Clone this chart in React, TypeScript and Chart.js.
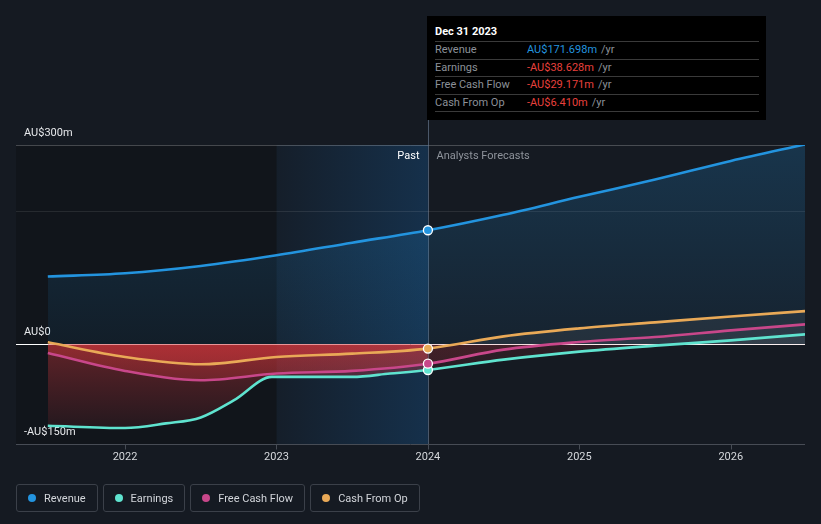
import React, { useEffect, useRef } from "react";
import { Chart, registerables } from "chart.js";
Chart.register(...registerables);

// ---------- data (AU$ millions) ----------
const revenueX = [2021.49, 2022.0, 2022.5, 2023.0, 2023.5, 2024.0, 2024.5, 2025.0, 2025.5, 2026.0, 2026.49];
const revenueY = [102, 107, 118, 134, 153, 171.7, 195, 222, 248, 276, 301];

const earningsX = [2021.49, 2022.0, 2022.27, 2022.5, 2022.72, 2022.97, 2023.5, 2023.75, 2024.0, 2024.5, 2025.0, 2025.5, 2026.0, 2026.49];
const earningsY = [-122.6, -126, -119, -110, -84, -49, -49, -44, -38.6, -23, -11, -2, 6, 15];

const fcfX = [2021.49, 2022.0, 2022.5, 2023.0, 2023.5, 2024.0, 2024.5, 2025.0, 2025.5, 2026.0, 2026.49];
const fcfY = [-13, -40, -54, -44, -40, -29.2, -8, 3.5, 11, 21, 30];

const cfoX = [2021.49, 2022.0, 2022.5, 2023.0, 2023.5, 2024.0, 2024.5, 2025.0, 2025.5, 2026.0, 2026.49];
const cfoY = [3, -19, -30, -19, -14, -6.4, 12, 24, 33, 42, 50];

const highlightX = 2024.0;
const highlightValues = [171.698, -38.628, -29.171, -6.41];

const xTickYears = [2022, 2023, 2024, 2025, 2026];
const yTickValues = [300, 0, -150];
const yTickLabels = ["AU$300m", "AU$0", "-AU$150m"];
const gridValues = [300, 200];

const seriesNames = ["Revenue", "Earnings", "Free Cash Flow", "Cash From Op"];
const seriesColors = ["#2394df", "#5fe3cf", "#c8478a", "#e9a957"];
const tooltipDate = "Dec 31 2023";
const tooltipTexts = ["AU$171.698m", "-AU$38.628m", "-AU$29.171m", "-AU$6.410m"];

const X_MIN = 2021.28;
const X_MAX = 2026.49;
const Y_MIN = -150;
const Y_MAX = 300;

const BG = "#151a22";
const DARK = "#11151b";
const FONT = "Roboto, 'Noto Sans', sans-serif";

function pts(xs: number[], ys: number[], filter?: (x: number) => boolean) {
  const out: { x: number; y: number }[] = [];
  xs.forEach((x, i) => {
    if (!filter || filter(x)) out.push({ x, y: ys[i] });
  });
  return out;
}

const past = (x: number) => x <= highlightX + 1e-9;
const future = (x: number) => x >= highlightX - 1e-9;

function redGrad(strong: boolean) {
  return (ctx: any) => {
    const chart = ctx.chart;
    const ca = chart.chartArea;
    if (!ca) return "rgba(0,0,0,0)";
    const y0 = chart.scales.y.getPixelForValue(0);
    const g = chart.ctx.createLinearGradient(0, y0, 0, ca.bottom);
    if (strong) {
      g.addColorStop(0, "rgba(215,55,60,0.40)");
      g.addColorStop(1, "rgba(215,55,60,0.04)");
    } else {
      g.addColorStop(0, "rgba(205,52,58,0.13)");
      g.addColorStop(1, "rgba(205,52,58,0.02)");
    }
    return g;
  };
}

function blueGrad(ctx: any) {
  const chart = ctx.chart;
  const ca = chart.chartArea;
  if (!ca) return "rgba(0,0,0,0)";
  const y0 = chart.scales.y.getPixelForValue(0);
  const g = chart.ctx.createLinearGradient(0, ca.top, 0, y0);
  g.addColorStop(0, "rgba(35,148,223,0.22)");
  g.addColorStop(1, "rgba(35,148,223,0.07)");
  return g;
}

const decorPlugin = {
  id: "decor",
  beforeDraw(chart: any) {
    const { ctx, chartArea: ca, scales } = chart;
    const xs = scales.x;
    ctx.save();
    ctx.fillStyle = BG;
    ctx.fillRect(0, 0, chart.width, chart.height);
    const x23 = xs.getPixelForValue(2023);
    const x24 = xs.getPixelForValue(2024);
    ctx.fillStyle = DARK;
    ctx.fillRect(ca.left, ca.top, x23 - ca.left, ca.bottom - ca.top);
    const g = ctx.createLinearGradient(x23, 0, x24, 0);
    g.addColorStop(0, "rgba(22,100,170,0.06)");
    g.addColorStop(1, "rgba(22,100,170,0.30)");
    ctx.fillStyle = g;
    ctx.fillRect(x23, ca.top, x24 - x23, ca.bottom - ca.top);
    ctx.restore();
  },
  beforeDatasetsDraw(chart: any) {
    const { ctx, chartArea: ca, scales } = chart;
    const xs = scales.x, ys = scales.y;
    ctx.save();
    gridValues.forEach((v, i) => {
      const py = Math.round(ys.getPixelForValue(v)) + 0.5;
      ctx.strokeStyle = i === 0 ? "rgba(255,255,255,0.22)" : "rgba(255,255,255,0.09)";
      ctx.lineWidth = 1;
      ctx.beginPath();
      ctx.moveTo(ca.left, py);
      ctx.lineTo(ca.right, py);
      ctx.stroke();
    });
    const by = Math.round(ca.bottom) + 0.5;
    ctx.strokeStyle = "#474c55";
    ctx.beginPath();
    ctx.moveTo(ca.left, by);
    ctx.lineTo(ca.right, by);
    ctx.stroke();
    xTickYears.forEach((yr) => {
      const px = Math.round(xs.getPixelForValue(yr)) + 0.5;
      ctx.beginPath();
      ctx.moveTo(px, by);
      ctx.lineTo(px, by + 5);
      ctx.stroke();
    });
    const zy = Math.round(ys.getPixelForValue(0)) + 0.5;
    ctx.strokeStyle = "#ffffff";
    ctx.beginPath();
    ctx.moveTo(ca.left, zy);
    ctx.lineTo(ca.right, zy);
    ctx.stroke();
    const vx = Math.round(xs.getPixelForValue(highlightX)) + 0.5;
    ctx.strokeStyle = "rgba(120,140,165,0.55)";
    ctx.beginPath();
    ctx.moveTo(vx, 118);
    ctx.lineTo(vx, ca.bottom);
    ctx.stroke();
    ctx.font = `11px ${FONT}`;
    ctx.textBaseline = "middle";
    ctx.fillStyle = "#e6e8eb";
    ctx.textAlign = "left";
    yTickValues.forEach((v, i) => {
      const py = ys.getPixelForValue(v);
      ctx.fillText(yTickLabels[i], ca.left + 8, py - 12);
    });
    ctx.textAlign = "center";
    ctx.fillStyle = "#d5d8dc";
    xTickYears.forEach((yr) => {
      ctx.fillText(String(yr), xs.getPixelForValue(yr), ca.bottom + 13.5);
    });
    ctx.textAlign = "right";
    ctx.fillStyle = "#ffffff";
    ctx.fillText("Past", vx - 9, ca.top + 11);
    ctx.textAlign = "left";
    ctx.fillStyle = "#8e939b";
    ctx.fillText("Analysts Forecasts", vx + 8, ca.top + 11);
    ctx.restore();
  },
};

export default function App() {
  const ref = useRef<HTMLCanvasElement | null>(null);

  useEffect(() => {
    document.body.style.margin = "0";
    document.body.style.background = BG;
    const canvas = ref.current!;
    const lineDs = (label: string, data: any[], color: string) => ({
      label,
      data,
      borderColor: color,
      borderWidth: 2.6,
      pointRadius: 0,
      fill: false,
      cubicInterpolationMode: "monotone",
    });
    const fillDs = (data: any[], fill: any) => ({
      label: "fill",
      data,
      borderWidth: 0,
      borderColor: "rgba(0,0,0,0)",
      pointRadius: 0,
      cubicInterpolationMode: "monotone",
      fill,
      backgroundColor: "rgba(0,0,0,0)",
    });
    const chart = new Chart(canvas, {
      type: "line",
      data: {
        datasets: [
          {
            label: "points",
            data: highlightValues.map((v) => ({ x: highlightX, y: v })),
            showLine: false,
            pointRadius: 4.5,
            pointBorderWidth: 1.3,
            pointBorderColor: "#ffffff",
            pointBackgroundColor: seriesColors,
          },
          lineDs("Revenue", pts(revenueX, revenueY), seriesColors[0]),
          lineDs("Earnings", pts(earningsX, earningsY), seriesColors[1]),
          lineDs("Free Cash Flow", pts(fcfX, fcfY), seriesColors[2]),
          lineDs("Cash From Op", pts(cfoX, cfoY), seriesColors[3]),
          fillDs(pts(revenueX, revenueY), { target: "origin", above: blueGrad, below: "rgba(0,0,0,0)" }),
          fillDs(pts(cfoX, cfoY, past), { target: "origin", above: "rgba(0,0,0,0)", below: redGrad(true) }),
          fillDs(pts(fcfX, fcfY, past), { target: "origin", above: "rgba(0,0,0,0)", below: redGrad(true) }),
          fillDs(pts(earningsX, earningsY, past), { target: "origin", above: "rgba(0,0,0,0)", below: redGrad(true) }),
          fillDs(pts(cfoX, cfoY, future), { target: "origin", above: "rgba(190,190,190,0.09)", below: redGrad(false) }),
          fillDs(pts(fcfX, fcfY, future), { target: "origin", above: "rgba(190,190,190,0.06)", below: redGrad(false) }),
          fillDs(pts(earningsX, earningsY, future), { target: "origin", above: "rgba(190,190,190,0.06)", below: redGrad(false) }),
        ] as any,
      },
      options: {
        responsive: false,
        animation: false,
        layout: { padding: { left: 16, right: 16, top: 145, bottom: 80 } },
        scales: {
          x: { type: "linear", min: X_MIN, max: X_MAX, display: false },
          y: { type: "linear", min: Y_MIN, max: Y_MAX, display: false },
        },
        plugins: {
          legend: { display: false },
          tooltip: { enabled: false },
        },
        events: [],
      } as any,
      plugins: [decorPlugin],
    });
    return () => chart.destroy();
  }, []);

  return (
    <div style={{ position: "relative", width: 821, height: 524, background: BG, overflow: "hidden", fontFamily: FONT }}>
      <canvas ref={ref} width={821} height={524} style={{ position: "absolute", left: 0, top: 0, width: 821, height: 524 }} />
      <div
        style={{
          position: "absolute",
          left: 427,
          top: 16,
          width: 339,
          height: 104,
          background: "#000000",
          boxSizing: "border-box",
          padding: "0 7px 0 8px",
          fontSize: 11,
        }}
      >
        <div style={{ height: 25, lineHeight: "31px", color: "#ffffff", fontWeight: 700 }}>{tooltipDate}</div>
        {seriesNames.map((n, i) => (
          <div
            key={n}
            style={{
              display: "flex",
              height: 16.5,
              lineHeight: "16px",
              borderTop: "1px solid #3a3a3a",
              borderBottom: i === 3 ? "1px solid #3a3a3a" : undefined,
              color: "#8c9199",
            }}
          >
            <span style={{ width: 92 }}>{n}</span>
            <span style={{ color: i === 0 ? seriesColors[0] : "#e8403d" }}>{tooltipTexts[i]}</span>
            <span style={{ marginLeft: 4, color: "#8c9199" }}>/yr</span>
          </div>
        ))}
      </div>
      <div style={{ position: "absolute", left: 16, top: 484, display: "flex", gap: 5 }}>
        {seriesNames.map((n, i) => (
          <div
            key={n}
            style={{
              height: 28,
              boxSizing: "border-box",
              border: "1px solid #3b4049",
              borderRadius: 3,
              display: "flex",
              alignItems: "center",
              padding: "0 11px 0 11px",
              fontSize: 11,
              color: "#d2d5da",
            }}
          >
            <span style={{ width: 8, height: 8, borderRadius: 4, background: seriesColors[i], marginRight: 8, display: "inline-block" }} />
            {n}
          </div>
        ))}
      </div>
    </div>
  );
}
